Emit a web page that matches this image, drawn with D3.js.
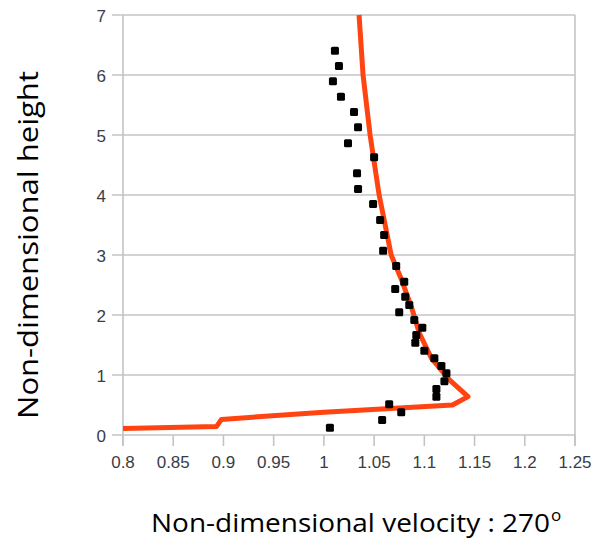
<!DOCTYPE html>
<html>
<head>
<meta charset="utf-8">
<script src="https://cdn.jsdelivr.net/npm/d3@7"></script>
<style>
  body { margin: 0; background: #fff; }
  svg { display: block; }
</style>
</head>
<body>
<div id="chart"></div>
<script>
// measured profile (dots)
var measU = [1.011, 1.015, 1.009, 1.017, 1.030, 1.034, 1.024, 1.050, 1.033, 1.034,
	1.049, 1.056, 1.060, 1.059, 1.072, 1.080, 1.071, 1.081, 1.085, 1.075,
	1.090, 1.098, 1.092, 1.091, 1.100, 1.110, 1.117, 1.122, 1.120, 1.112,
	1.112, 1.065, 1.077, 1.058, 1.006];
var measZ = [6.405, 6.15, 5.895, 5.638, 5.383, 5.128, 4.862, 4.628, 4.362, 4.10,
	3.85, 3.583, 3.333, 3.072, 2.817, 2.555, 2.433, 2.305, 2.167, 2.045,
	1.917, 1.788, 1.667, 1.538, 1.405, 1.278, 1.15, 1.028, 0.895, 0.767,
	0.638, 0.512, 0.378, 0.25, 0.122];

// simulated profile (red line)
var simU = [0.8, 0.893, 0.898, 1.0, 1.128, 1.1435, 1.125, 1.107, 1.095, 1.087,
	1.077, 1.067, 1.055, 1.046, 1.039, 1.035];
var simZ = [0.11, 0.14, 0.26, 0.38, 0.50, 0.64, 0.92, 1.28, 1.7, 2.14,
	2.6, 3.0, 4.0, 5.0, 6.0, 7.0];

var xTicks = [0.8, 0.85, 0.9, 0.95, 1, 1.05, 1.1, 1.15, 1.2, 1.25];
var yTicks = [0, 1, 2, 3, 4, 5, 6, 7];

var width = 603, height = 545;
var plotLeft = 123, plotRight = 575, plotTop = 15, plotBottom = 435;

var svg = d3.select("#chart").append("svg")
	.attr("width", width)
	.attr("height", height);

var x = d3.scaleLinear().domain([0.8, 1.25]).range([plotLeft, plotRight]);
var y = d3.scaleLinear().domain([0, 7]).range([plotBottom, plotTop]);

var gridColor = "#c4c4c4";

// horizontal gridlines + y ticks
svg.append("g").selectAll("line")
	.data(yTicks)
	.enter().append("line")
	.attr("x1", plotLeft - 11)
	.attr("x2", plotRight)
	.attr("y1", function(d) { return y(d); })
	.attr("y2", function(d) { return y(d); })
	.attr("stroke", gridColor)
	.attr("stroke-width", 1.6);

// left and right frame lines, extending down as ticks
svg.append("g").selectAll("line")
	.data([0.8, 1.25])
	.enter().append("line")
	.attr("x1", function(d) { return x(d); })
	.attr("x2", function(d) { return x(d); })
	.attr("y1", plotTop)
	.attr("y2", plotBottom + 11)
	.attr("stroke", gridColor)
	.attr("stroke-width", 1.6);

// x ticks
svg.append("g").selectAll("line")
	.data(xTicks)
	.enter().append("line")
	.attr("x1", function(d) { return x(d); })
	.attr("x2", function(d) { return x(d); })
	.attr("y1", plotBottom)
	.attr("y2", plotBottom + 11)
	.attr("stroke", gridColor)
	.attr("stroke-width", 1.6);

var tickFont = "'Liberation Sans', Arial, sans-serif";

svg.append("g").selectAll("text")
	.data(xTicks)
	.enter().append("text")
	.attr("x", function(d) { return x(d); })
	.attr("y", 468)
	.attr("text-anchor", "middle")
	.attr("font-family", tickFont)
	.attr("font-size", 17)
	.attr("fill", "#3a3d45")
	.text(function(d) { return d; });

svg.append("g").selectAll("text")
	.data(yTicks)
	.enter().append("text")
	.attr("x", 106)
	.attr("y", function(d) { return y(d) + 6.5; })
	.attr("text-anchor", "end")
	.attr("font-family", tickFont)
	.attr("font-size", 17)
	.attr("fill", "#3a3d45")
	.text(function(d) { return d; });

// red line
var line = d3.line()
	.x(function(d, i) { return x(simU[i]); })
	.y(function(d, i) { return y(simZ[i]); });

svg.append("path")
	.datum(simU)
	.attr("d", line)
	.attr("fill", "none")
	.attr("stroke", "#ff4412")
	.attr("stroke-width", 5)
	.attr("stroke-linejoin", "round");

// black squares
var s = 8;
svg.append("g").selectAll("rect")
	.data(measU)
	.enter().append("rect")
	.attr("x", function(d) { return x(d) - s / 2; })
	.attr("y", function(d, i) { return y(measZ[i]) - s / 2; })
	.attr("width", s)
	.attr("height", s)
	.attr("rx", 1.5)
	.attr("fill", "#000");

// axis titles
var titleFont = "'Open Sans', 'Noto Sans', sans-serif";

svg.append("text")
	.attr("transform", "translate(38,245) rotate(-90)")
	.attr("text-anchor", "middle")
	.attr("font-family", titleFont)
	.attr("font-size", 28)
	.attr("textLength", 348)
	.attr("lengthAdjust", "spacingAndGlyphs")
	.attr("fill", "#000")
	.text("Non-dimensional height");

var xt = svg.append("text")
	.attr("x", 151)
	.attr("y", 532)
	.attr("font-family", titleFont)
	.attr("font-size", 26)
	.attr("fill", "#000");
xt.append("tspan")
	.attr("textLength", 399)
	.attr("lengthAdjust", "spacingAndGlyphs")
	.text("Non-dimensional velocity : 270");
xt.append("tspan")
	.attr("x", 551)
	.attr("y", 521)
	.attr("font-size", 17)
	.text("o");
</script>
</body>
</html>
